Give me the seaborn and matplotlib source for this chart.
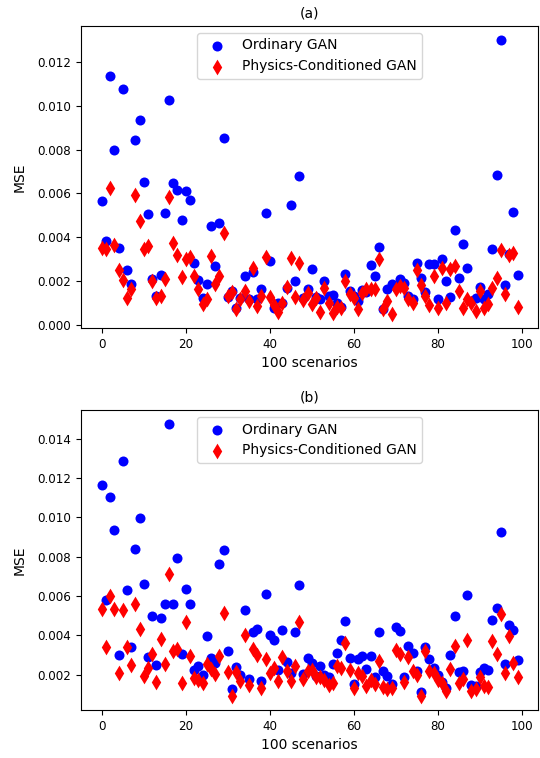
import numpy as np
import pandas as pd
import matplotlib
matplotlib.use("Agg")
import matplotlib.pyplot as plt
import seaborn as sns

scenarios = list(range(100))

# Panel (a) values in units of 1e-3
ordinary_a = [5.65, 3.83, 11.36, 7.97, 3.5, 10.76, 2.51, 1.9, 8.42, 9.36,
              6.53, 5.05, 2.12, 1.33, 2.27, 5.09, 10.24, 6.48, 6.14, 4.77,
              6.11, 5.7, 2.85, 2.06, 1.24, 1.86, 4.5, 2.7, 4.64, 8.53,
              1.3, 1.56, 0.8, 1.26, 2.24, 1.2, 2.42, 1.18, 1.64, 5.09,
              2.92, 0.8, 1.0, 1.0, 1.7, 5.47, 2.0, 6.79, 1.24, 1.64,
              2.58, 1.3, 1.18, 2.0, 1.33, 1.36, 1.03, 0.85, 2.32, 1.56,
              1.33, 1.1, 1.6, 1.5, 2.73, 2.24, 3.58, 0.76, 1.64, 1.86,
              1.75, 2.12, 1.94, 1.33, 1.18, 2.85, 2.14, 1.5, 2.77, 2.77,
              1.21, 3.0, 2.0, 1.3, 4.32, 2.17, 3.71, 2.62, 1.1, 1.24,
              1.76, 1.18, 1.41, 3.45, 6.86, 13.0, 1.82, 3.23, 5.15, 2.3]
physics_a = [3.5, 3.48, 6.26, 3.64, 2.51, 2.06, 1.23, 1.67, 5.95, 4.74,
             3.45, 3.6, 2.0, 1.23, 1.33, 2.09, 5.83, 3.76, 3.18, 2.2,
             3.0, 3.12, 2.24, 1.67, 0.97, 1.18, 3.15, 1.86, 2.24, 4.21,
             1.33, 1.5, 0.75, 1.18, 1.56, 1.1, 2.62, 0.88, 1.32, 3.1,
             1.29, 0.9, 0.6, 1.0, 1.75, 3.07, 1.3, 2.82, 1.14, 1.48,
             0.95, 1.24, 0.6, 1.71, 1.03, 0.58, 0.85, 0.8, 2.0, 1.41,
             1.26, 0.73, 1.48, 1.64, 1.64, 1.64, 3.0, 0.73, 1.1, 0.5,
             1.64, 1.79, 1.71, 1.18, 1.03, 2.5, 1.82, 1.33, 0.9, 2.24,
             0.8, 2.62, 1.03, 2.55, 2.7, 1.56, 0.8, 1.2, 1.03, 0.65,
             1.56, 0.8, 0.95, 1.71, 2.17, 3.42, 1.41, 3.18, 3.3, 0.85]

# Panel (b) values in units of 1e-3
ordinary_b = [11.68, 5.82, 11.06, 9.37, 2.99, 12.87, 6.29, 3.42, 8.39, 9.99,
              6.63, 2.91, 4.97, 2.49, 4.9, 5.6, 14.78, 5.6, 7.96, 3.05,
              6.36, 5.6, 2.25, 2.45, 1.97, 3.96, 2.85, 2.58, 7.63, 8.32,
              3.22, 1.27, 2.4, 1.96, 5.31, 1.76, 4.17, 4.32, 1.68, 6.08,
              4.04, 3.77, 2.25, 4.27, 2.62, 2.1, 4.17, 6.58, 2.01, 2.86,
              2.6, 1.93, 2.42, 2.0, 1.9, 2.52, 3.08, 3.78, 4.75, 2.86,
              1.52, 2.77, 2.94, 2.3, 2.94, 1.9, 4.18, 2.2, 1.91, 1.5,
              4.4, 4.22, 1.89, 3.46, 3.12, 2.2, 1.09, 3.43, 2.8, 2.32,
              2.0, 1.62, 1.34, 2.98, 5.0, 2.13, 2.2, 6.07, 1.46, 1.4,
              2.15, 2.34, 2.22, 4.8, 5.38, 9.28, 2.52, 4.55, 4.25, 2.74]
physics_b = [5.34, 3.42, 6.02, 5.36, 2.06, 5.27, 3.42, 2.48, 5.6, 4.33,
             1.95, 2.36, 3.03, 1.63, 3.79, 2.56, 7.13, 3.22, 3.29, 1.59,
             4.69, 2.97, 1.82, 1.74, 1.56, 2.52, 2.26, 2.01, 2.97, 5.16,
             2.13, 0.89, 2.11, 1.67, 4.04, 1.46, 3.28, 3.02, 1.32, 2.8,
             2.08, 2.35, 1.67, 2.92, 2.18, 1.67, 2.43, 4.69, 1.76, 2.18,
             2.24, 1.9, 1.88, 1.7, 1.46, 1.55, 2.44, 2.35, 3.62, 2.25,
             1.3, 2.1, 1.95, 1.42, 1.7, 1.5, 2.7, 1.35, 1.28, 1.3,
             3.27, 3.03, 1.63, 2.92, 2.18, 2.0, 0.93, 3.22, 2.2, 2.09,
             1.7, 1.55, 1.15, 2.26, 3.46, 1.59, 1.78, 3.77, 1.18, 1.25,
             1.9, 1.43, 1.39, 3.7, 3.05, 5.07, 2.07, 3.96, 2.58, 1.9]

labels = ["Ordinary GAN", "Physics-Conditioned GAN"]
titles = ["(a)", "(b)"]
xlabel = "100 scenarios"
ylabel = "MSE"

plt.rcParams["font.family"] = ["DejaVu Sans"]
plt.rcParams["font.size"] = 8.6

fig = plt.figure(figsize=(5.4, 7.58), dpi=100)
ax_a = fig.add_axes([0.150, 0.5673, 0.847, 0.3984])
ax_b = fig.add_axes([0.150, 0.0633, 0.847, 0.3958])

panels = [(ax_a, ordinary_a, physics_a), (ax_b, ordinary_b, physics_b)]
for (ax, ordv, phys), title in zip(panels, titles):
    df = pd.DataFrame({
        "scenario": scenarios,
        "ordinary": np.array(ordv) * 1e-3,
        "physics": np.array(phys) * 1e-3,
    })
    sns.scatterplot(data=df, x="scenario", y="ordinary", ax=ax, marker="o",
                    color="blue", edgecolor="blue", linewidth=0, s=52,
                    label=labels[0], zorder=2)
    sns.scatterplot(data=df, x="scenario", y="physics", ax=ax, marker="d",
                    color="red", edgecolor="red", linewidth=0, s=64,
                    label=labels[1], zorder=3)
    ax.set_title(title, fontsize=10)
    ax.set_xlabel(xlabel, fontsize=10)
    ax.set_ylabel(ylabel, fontsize=10, labelpad=8)
    ax.set_xticks([0, 20, 40, 60, 80, 100])
    ax.legend(loc="upper center", fontsize=10)

fig.savefig("out.png", dpi=100)
